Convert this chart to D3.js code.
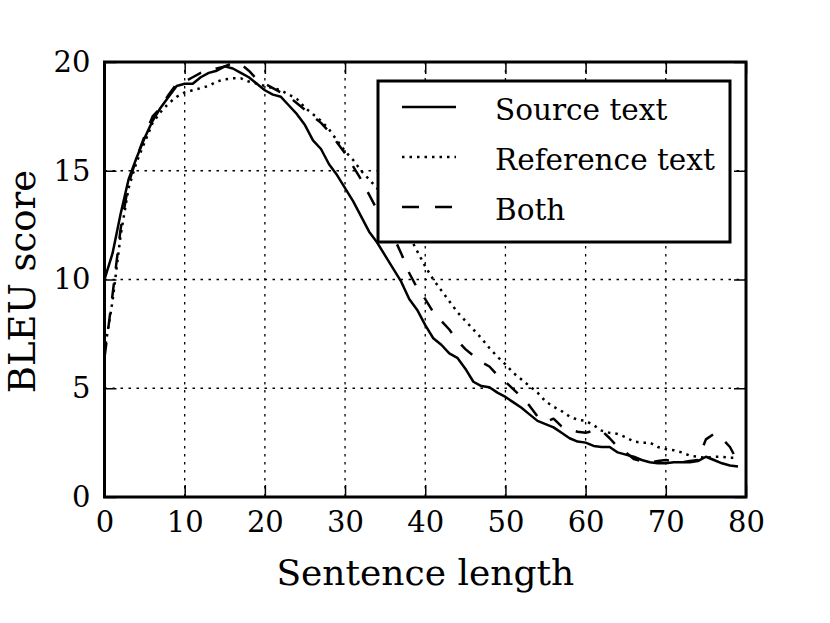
<!DOCTYPE html>
<html>
<head>
<meta charset="utf-8">
<script src="https://cdn.jsdelivr.net/npm/d3@7"></script>
<style>
  body { margin: 0; background: #fff; }
</style>
</head>
<body>
<div id="chart"></div>
<script>
'use strict';
// data
var lengths = d3.range(0, 80);

var sourceText = [
  10.0, 11.2, 13.0, 14.6, 15.6, 16.5, 17.3, 17.9, 18.4, 18.9,
  19.0, 19.0, 19.3, 19.5, 19.6, 19.8, 19.7, 19.5, 19.3, 19.0,
  18.7, 18.5, 18.4, 18.0, 17.6, 17.1, 16.4, 16.0, 15.3, 14.8,
  14.2, 13.6, 12.9, 12.2, 11.7, 11.1, 10.5, 9.9, 9.1, 8.6,
  7.9, 7.3, 7.0, 6.6, 6.4, 5.9, 5.3, 5.1, 5.05, 4.8,
  4.6, 4.35, 4.1, 3.8, 3.5, 3.35, 3.2, 2.95, 2.7, 2.55,
  2.5, 2.35, 2.3, 2.3, 2.05, 1.95, 1.85, 1.7, 1.6, 1.55,
  1.55, 1.6, 1.6, 1.6, 1.65, 1.85, 1.7, 1.55, 1.45, 1.4
];

var referenceText = [
  6.7, 9.0, 12.0, 14.2, 15.4, 16.3, 17.2, 17.7, 18.1, 18.4,
  18.6, 18.7, 18.8, 18.9, 19.1, 19.2, 19.25, 19.25, 19.1, 19.0,
  18.9, 18.8, 18.7, 18.5, 18.3, 17.9, 17.6, 17.3, 16.9, 16.4,
  15.9, 15.5, 15.0, 14.6, 14.2, 13.7, 13.2, 12.6, 12.0, 11.3,
  10.6, 10.0, 9.5, 9.0, 8.5, 8.1, 7.7, 7.3, 6.85, 6.45,
  6.1, 5.7, 5.4, 5.1, 4.8, 4.4, 4.15, 3.95, 3.7, 3.55,
  3.5, 3.3, 3.05, 2.95, 2.9, 2.75, 2.55, 2.5, 2.5, 2.3,
  2.2, 2.15, 2.05, 1.9, 1.85, 1.8, 1.85, 1.85, 1.8, 1.8
];

var both = [
  6.4, 9.3, 12.3, 14.4, 15.6, 16.6, 17.5, 17.9, 18.5, 19.0,
  19.1, 19.3, 19.5, 19.6, 19.7, 19.8, 19.95, 19.9, 19.6, 19.2,
  19.0, 18.8, 18.6, 18.4, 18.1, 17.8, 17.5, 17.2, 16.8, 16.3,
  15.8, 15.2, 14.6, 13.9, 13.2, 12.6, 12.0, 11.2, 10.3, 9.6,
  9.1, 8.5, 8.1, 7.7, 7.2, 6.8, 6.5, 6.2, 6.0, 5.6,
  5.3, 4.95, 4.6, 4.2, 3.7, 3.45, 3.6, 3.25, 3.1, 3.0,
  2.95, 3.05, 3.05, 2.7, 2.3, 2.05, 1.75, 1.65, 1.6, 1.65,
  1.7, 1.65, 1.6, 1.65, 1.7, 2.65, 2.9, 2.7, 2.3, 1.6
];

var xTicks = [0, 10, 20, 30, 40, 50, 60, 70, 80];
var yTicks = [0, 5, 10, 15, 20];

var seriesNames = ['Source text', 'Reference text', 'Both'];
var seriesValues = [sourceText, referenceText, both];
var seriesDash = ['none', '2.5,5', '15,15'];

var fontName = 'DejaVu Serif';

// set the dimensions of the canvas
var totalWidth = 830, totalHeight = 623;
var margin = {top: 62, right: 84, bottom: 126, left: 104.5},
    width = totalWidth - margin.left - margin.right,
    height = totalHeight - margin.top - margin.bottom;

// set the ranges
var x = d3.scaleLinear().domain([0, 80]).range([0, width]);
var y = d3.scaleLinear().domain([0, 20]).range([height, 0]);

var svg = d3.select('#chart').append('svg')
    .attr('width', totalWidth)
    .attr('height', totalHeight)
    .attr('font-family', fontName)
  .append('g')
    .attr('transform', 'translate(' + margin.left + ',' + margin.top + ')');

svg.append('clipPath')
    .attr('id', 'plotClip')
  .append('rect')
    .attr('width', width)
    .attr('height', height);

// dotted grid
svg.selectAll('.vgrid')
    .data(xTicks.slice(1, -1))
  .enter().append('line')
    .attr('x1', function(d) { return x(d); })
    .attr('x2', function(d) { return x(d); })
    .attr('y1', 0)
    .attr('y2', height)
    .attr('stroke', '#000')
    .attr('stroke-width', 1.3)
    .attr('stroke-dasharray', '2.5,5.5');

svg.selectAll('.hgrid')
    .data(yTicks.slice(1, -1))
  .enter().append('line')
    .attr('y1', function(d) { return y(d); })
    .attr('y2', function(d) { return y(d); })
    .attr('x1', 0)
    .attr('x2', width)
    .attr('stroke', '#000')
    .attr('stroke-width', 1.3)
    .attr('stroke-dasharray', '2.5,5.5');

// the three lines
var line = d3.line()
    .x(function(d, i) { return x(lengths[i]); })
    .y(function(d) { return y(d); });

var plot = svg.append('g').attr('clip-path', 'url(#plotClip)');

plot.selectAll('.series')
    .data(seriesValues)
  .enter().append('path')
    .attr('d', function(d) { return line(d); })
    .attr('fill', 'none')
    .attr('stroke', '#000')
    .attr('stroke-width', 2.5)
    .attr('stroke-linejoin', 'round')
    .attr('stroke-dasharray', function(d, i) { return seriesDash[i]; });

// axes with inward ticks on all sides
function styleAxis(g) {
  g.attr('font-family', fontName);
  g.select('.domain').remove();
  g.selectAll('.tick line').attr('stroke', '#000').attr('stroke-width', 1.5);
  g.selectAll('.tick text').attr('font-size', 29).attr('fill', '#000');
}

svg.append('g')
    .attr('transform', 'translate(0,' + height + ')')
    .call(d3.axisBottom(x).tickValues(xTicks).tickSize(-12).tickPadding(14))
    .call(styleAxis);

svg.append('g')
    .call(d3.axisTop(x).tickValues(xTicks).tickSize(-12).tickFormat(''))
    .call(styleAxis);

svg.append('g')
    .call(d3.axisLeft(y).tickValues(yTicks).tickSize(-12).tickPadding(14))
    .call(styleAxis);

svg.append('g')
    .attr('transform', 'translate(' + width + ',0)')
    .call(d3.axisRight(y).tickValues(yTicks).tickSize(-12).tickFormat(''))
    .call(styleAxis);

// frame
svg.append('rect')
    .attr('width', width)
    .attr('height', height)
    .attr('fill', 'none')
    .attr('stroke', '#000')
    .attr('stroke-width', 3);

// legend
var legend = svg.append('g')
    .attr('transform', 'translate(' + (378 - margin.left) + ',' + (81 - margin.top) + ')');

legend.append('rect')
    .attr('width', 352)
    .attr('height', 161)
    .attr('fill', '#fff')
    .attr('stroke', '#000')
    .attr('stroke-width', 3);

var rows = legend.selectAll('.row')
    .data(seriesNames)
  .enter().append('g')
    .attr('transform', function(d, i) { return 'translate(0,' + (26 + i * 50) + ')'; });

rows.append('line')
    .attr('x1', 24)
    .attr('x2', 78)
    .attr('stroke', '#000')
    .attr('stroke-width', 2.5)
    .attr('stroke-dasharray', function(d, i) { return seriesDash[i] === '15,15' ? '17,16' : seriesDash[i]; });

rows.append('text')
    .attr('x', 117)
    .attr('y', 13)
    .attr('font-size', 29.5)
    .text(function(d) { return d; });

// axis labels
svg.append('text')
    .attr('transform', 'translate(' + (width / 2) + ',' + (585 - margin.top) + ')')
    .style('text-anchor', 'middle')
    .attr('font-size', 36)
    .text('Sentence length');

svg.append('text')
    .attr('transform', 'rotate(-90)')
    .attr('x', 0 - (height / 2) - 2)
    .attr('y', 35 - margin.left)
    .style('text-anchor', 'middle')
    .attr('font-size', 37)
    .text('BLEU score');
</script>
</body>
</html>
